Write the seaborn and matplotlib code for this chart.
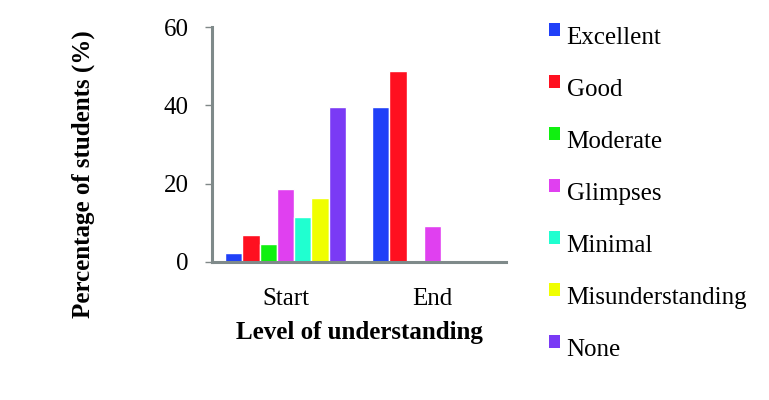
import matplotlib
matplotlib.use("Agg")
import matplotlib.pyplot as plt
import seaborn as sns
import pandas as pd
from matplotlib.patches import Patch, Rectangle
from matplotlib.legend_handler import HandlerPatch

categories = ["Start", "End"]
levels = ["Excellent", "Good", "Moderate", "Glimpses", "Minimal", "Misunderstanding", "None"]
start_values = [2.3, 6.9, 4.6, 18.6, 11.5, 16.3, 39.6]
end_values = [39.6, 48.8, 0.0, 9.2, 0.0, 0.0, 0.0]
colors = ["#2040F8", "#FF1020", "#10F010", "#E040F0", "#20FFD0", "#F0FF00", "#7A3AF5"]
y_ticks = [0, 20, 40, 60]

rows = []
for lev, s, e in zip(levels, start_values, end_values):
    rows.append({"time": categories[0], "level": lev, "pct": s})
    rows.append({"time": categories[1], "level": lev, "pct": e})
df = pd.DataFrame(rows)

sns.set_theme(style="white")
plt.rcParams["font.family"] = ["Liberation Serif", "DejaVu Serif"]
plt.rcParams["text.color"] = "black"
plt.rcParams["axes.labelcolor"] = "black"
plt.rcParams["xtick.color"] = "black"
plt.rcParams["ytick.color"] = "black"

fig = plt.figure(figsize=(7.69, 4.0), dpi=100)
ax = fig.add_axes([212 / 769, 1 - 262 / 400, (506 - 212) / 769, (262 - 27) / 400])

sns.barplot(data=df, x="time", y="pct", hue="level", order=categories, hue_order=levels,
            palette=colors, saturation=1, width=0.82, ax=ax, legend=False, errorbar=None)

ax.set_xlim(-0.5, 1.5)
ax.set_ylim(0, 60)
ax.set_yticks(y_ticks)
ax.set_yticklabels([str(t) for t in y_ticks], fontsize=18)
ax.tick_params(axis="y", length=5, width=1, color="#808888", labelcolor="black", pad=12, left=True)
ax.tick_params(axis="x", length=0, labelsize=18, labelcolor="black", pad=19)
for sp in ["top", "right"]:
    ax.spines[sp].set_visible(False)
for sp in ["left", "bottom"]:
    ax.spines[sp].set_color("#7F8A8A")
    ax.spines[sp].set_linewidth(2.2)

ax.set_xlabel("Level of understanding", fontsize=18, fontweight="bold", labelpad=8, color="black")
ax.set_ylabel("Percentage of students (%)", fontsize=18, fontweight="bold", color="black")
ax.yaxis.set_label_coords(-0.398, 0.374)


class UpPatch(HandlerPatch):
    def create_artists(self, legend, orig_handle, xdescent, ydescent, width, height, fontsize, trans):
        p = Rectangle((-xdescent, -ydescent + height * 0.4), width, height,
                      facecolor=orig_handle.get_facecolor(), edgecolor="none", transform=trans)
        return [p]


handles = [Patch(facecolor=c, edgecolor="none", label=l) for c, l in zip(colors, levels)]
fig.legend(handles=handles, loc="upper left", bbox_to_anchor=(539 / 769, 1 - 17 / 400),
           frameon=False, fontsize=18, handlelength=0.45, handleheight=0.45,
           handletextpad=0.25, labelspacing=1.2, borderaxespad=0, labelcolor="black",
           handler_map={Patch: UpPatch()})

fig.savefig("out.png", dpi=100)
